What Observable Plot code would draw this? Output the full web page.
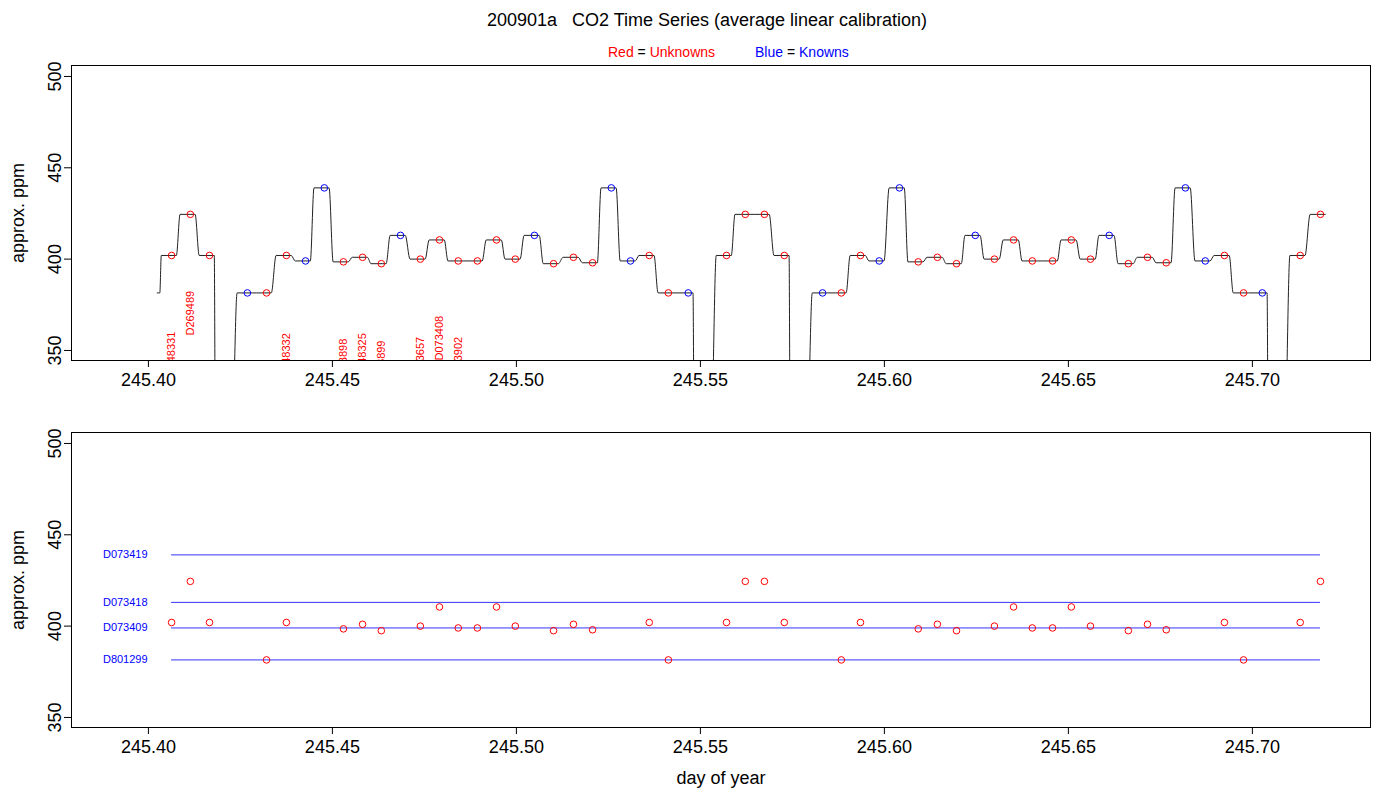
<!DOCTYPE html>
<html><head><meta charset="utf-8">
<script src="https://cdn.jsdelivr.net/npm/d3@7"></script>
<script src="https://cdn.jsdelivr.net/npm/@observablehq/plot@0.6"></script>
<style>
body{margin:0;background:#fff;font-family:"Liberation Sans",Arial,sans-serif;width:1400px;height:800px;position:relative;overflow:hidden}
#title{position:absolute;top:10px;left:0;width:1414px;text-align:center;font-size:18px;z-index:2}
#legend{position:absolute;top:44px;left:608px;font-size:14px;z-index:2}
#p1{position:absolute;top:40px;left:0;z-index:1}
#p2{position:absolute;top:410px;left:0;z-index:1}
</style></head><body>
<div id="title">200901a &nbsp; CO2 Time Series (average linear calibration)</div>
<div id="legend"><span style="color:red">Red</span> = <span style="color:red">Unknowns</span><span style="display:inline-block;width:40px"></span><span style="color:blue">Blue</span> = <span style="color:blue">Knowns</span></div>
<div id="p1"></div><div id="p2"></div>
<script>
const days = [245.4063,245.4114,245.4166,245.4269,245.4321,245.4375,245.4427,245.4478,245.4530,245.4582,245.4633,245.4685,245.4739,245.4791,245.4842,245.4894,245.4946,245.4997,245.5049,245.5101,245.5155,245.5207,245.5258,245.5310,245.5361,245.5413,245.5467,245.5571,245.5622,245.5674,245.5728,245.5832,245.5883,245.5935,245.5986,245.6041,245.6092,245.6144,245.6196,245.6247,245.6299,245.6351,245.6402,245.6457,245.6508,245.6560,245.6611,245.6663,245.6715,245.6766,245.6818,245.6872,245.6924,245.6976,245.7027,245.7130,245.7185];
const ppm = [402,424.5,402,381.5,381.5,402,399,439,398.5,401,397.5,413,400,410.5,399,399,410.5,400,413,397.5,401,398,439,399,402,381.5,381.5,402,424.5,424.5,402,381.5,381.5,402,399,439,398.5,401,397.5,413,400,410.5,399,399,410.5,400,413,397.5,401,398,439,399,402,381.5,381.5,402,424.5];
const kinds = ["U","U","U","K","U","U","K","K","U","U","U","K","U","U","U","U","U","U","K","U","U","U","K","K","U","U","K","U","U","U","U","K","U","U","K","K","U","U","U","K","U","U","U","U","U","U","K","U","U","U","K","K","U","U","K","U","U"];
const gapAfter = [2,26,30,54];
const traceStart = [[245.4024,381.5],[245.4031,381.5]];
const knownNames = ["D073419","D073418","D073409","D801299"];
const knownLevels = [439,413,399,381.5];
const tagNames = ["D048331","D269489","D048332","D073898","D048325","D073899","D073657","D073408","D073902"];
const tagDays = [245.4063,245.4114,245.4375,245.4530,245.4582,245.4633,245.4739,245.4791,245.4842];
const tagBase = [335.8,358.2,335,332,335,331,333,344.5,333];
const xTicks = [245.40,245.45,245.50,245.55,245.60,245.65,245.70];
const yTicks = [350,400,450,500];

const samples = days.map((d,i)=>({d, v:ppm[i], k:kinds[i]}));
const trace = traceStart.map(([d,v])=>({d,v}));
samples.forEach((s,i)=>{
  trace.push({d:s.d-0.0028,v:s.v},{d:s.d+0.0013,v:s.v});
  if (gapAfter.includes(i)) {
    trace.push({d:s.d+0.0016,v:300},{d:samples[i+1].d-0.0042,v:300});
  }
});
const col = k => k==="K" ? "blue" : "red";
const xDom = [245.3791,245.7321], yDom=[344.5,506];
const common = {
  width:1400, marginLeft:71, marginRight:30,
  style:{fontFamily:"Liberation Sans, Arial, sans-serif", fontSize:"17px", background:"transparent"},
  x:{domain:xDom, ticks:xTicks, tickFormat:d3.format(".2f"), label:null},
  y:{domain:yDom, ticks:yTicks, tickFormat:d=>d, label:"approx. ppm"}
};
const yAxis = Plot.axisY({ticks:yTicks, tickSize:7, tickRotate:-90, tickPadding:4, label:"approx. ppm", labelAnchor:"center", labelArrow:"none", labelOffset:60, fontSize:18});
document.getElementById("p1").appendChild(Plot.plot({
  ...common, height:370, marginTop:25, marginBottom:50,
  marks:[
    Plot.line(trace,{x:"d",y:"v",stroke:"#222",strokeWidth:1,curve:"monotone-x",clip:true}),
    Plot.dot(samples,{x:"d",y:"v",r:3.3,stroke:d=>col(d.k),strokeWidth:1,fill:"none"}),
    Plot.text(tagNames,{x:(d,i)=>tagDays[i],y:(d,i)=>tagBase[i],text:d=>d,rotate:-90,textAnchor:"start",fill:"red",fontSize:11,clip:true}),
    Plot.axisX({ticks:xTicks,tickFormat:d3.format(".2f"),tickSize:7,tickPadding:6,label:null,fontSize:18}),
    yAxis,
    Plot.frame({stroke:"black"})
  ]
}));
const unknowns = samples.filter(s=>s.k==="U");
const kl = knownNames.map((n,i)=>({n,v:knownLevels[i]}));
document.getElementById("p2").appendChild(Plot.plot({
  ...common, height:390, marginTop:22, marginBottom:73,
  marks:[
    Plot.ruleY(kl,{y:"v",x1:days[0],x2:days[days.length-1],stroke:"blue",strokeWidth:0.8}),
    Plot.text(kl,{x:days[0],y:"v",text:"n",fill:"blue",fontSize:11,textAnchor:"end",dx:-24}),
    Plot.dot(unknowns,{x:"d",y:"v",r:3.3,stroke:"red",strokeWidth:1,fill:"none"}),
    Plot.axisX({ticks:xTicks,tickFormat:d3.format(".2f"),tickSize:7,tickPadding:6,label:"day of year",labelAnchor:"center",labelArrow:"none",labelOffset:56,fontSize:18}),
    yAxis,
    Plot.frame({stroke:"black"})
  ]
}));
</script></body></html>
